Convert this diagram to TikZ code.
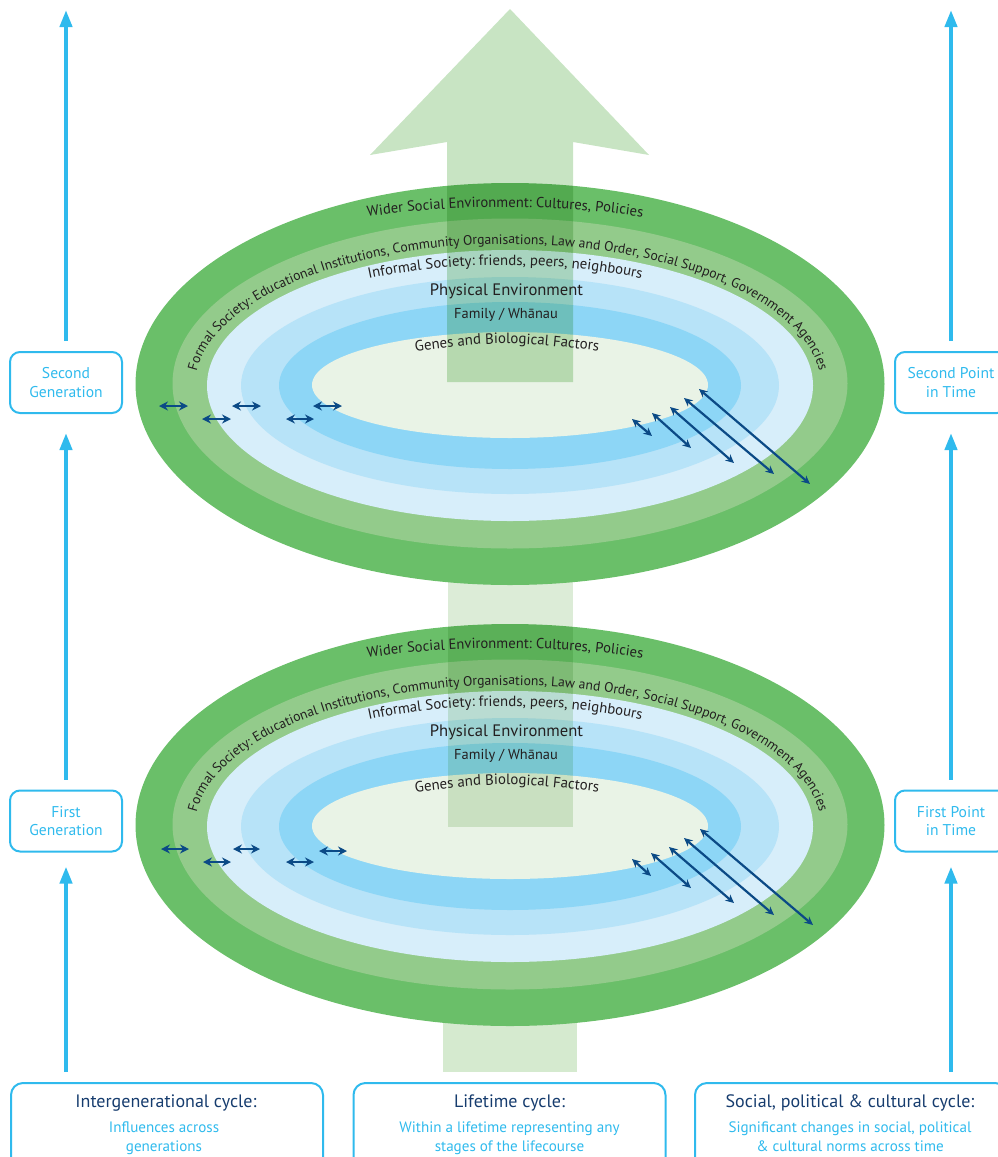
\documentclass[tikz,border=0pt]{standalone}
\usepackage{fontspec}
\setmainfont{PT Sans}
\usetikzlibrary{arrows.meta,decorations.text,calc}
\definecolor{gA}{RGB}{106,191,105}
\definecolor{gB}{RGB}{147,203,139}
\definecolor{bA}{RGB}{215,238,250}
\definecolor{bB}{RGB}{183,227,248}
\definecolor{bC}{RGB}{141,214,246}
\definecolor{cr}{RGB}{233,243,230}
\definecolor{arrTop}{RGB}{200,228,195}
\definecolor{arrMid}{RGB}{220,236,215}
\definecolor{arrLow}{RGB}{213,234,207}
\definecolor{navy}{RGB}{11,74,134}
\definecolor{sky}{RGB}{47,186,237}
\definecolor{titleblue}{RGB}{22,60,110}
\definecolor{txt}{RGB}{35,31,32}
\newcommand\fontWider{\fontsize{14.6}{16}\selectfont}
\newcommand\fontFormal{\fontsize{13.7}{16}\selectfont}
\newcommand\fontInformal{\fontsize{14.8}{16}\selectfont}
\newcommand\fontGenes{\fontsize{14.9}{17}\selectfont}
\newcommand\ringlayers{%
  \fill[gA] (510,384) ellipse[x radius=374.5, y radius=201];
  \fill[gB] (510,383.5) ellipse[x radius=337.5, y radius=165];
  \fill[bA] (510,385.5) ellipse[x radius=303, y radius=135.5];
  \fill[bB] (510,385.5) ellipse[x radius=269, y radius=108.5];
  \fill[bC] (510,385.5) ellipse[x radius=231, y radius=83.5];
  \fill[cr] (510,385) ellipse[x radius=198, y radius=53];
}
\newcommand\ringlabels[1]{%
  \path[decorate,decoration={text along path,text align=center,text color=txt,
    text={|\fontWider|Wider Social Environment: Cultures, Policies}}]
    (505,386) ++(235:417 and 179) arc[start angle=235,end angle=305,x radius=417,y radius=179];
  \path[decorate,decoration={text along path,text align=center,text color=txt,
    text={|\fontFormal|Formal Society: Educational Institutions, Community Organisations, Law and Order, Social Support, Government Agencies}}]
    (508,386) ++(172:313 and 142) arc[start angle=172,end angle=368,x radius=313,y radius=142];
  \path[decorate,decoration={text along path,text align=center,text color=txt,
    text={|\fontInformal|Informal Society: friends, peers, neighbours}}]
    (505,386) ++(225:296 and 121) arc[start angle=225,end angle=315,x radius=296,y radius=121];
  \path[decorate,decoration={text along path,text align=center,text color=txt,
    text={|\fontGenes|Genes and Biological Factors}}]
    (392,354) .. controls (507,340) .. (622,354);
  \node[ringlabel, font=\fontsize{16.6}{19}\selectfont] (#1phys) at (506.5,295) {Physical Environment};
  \node[ringlabel, font=\fontsize{14.4}{17}\selectfont] (#1fam) at (506,318) {Family / Whānau};
}
\tikzset{
  sidebox/.style={draw=sky, line width=2pt, rounded corners=10pt, minimum width=112pt,
    minimum height=61pt, inner sep=0pt, align=center, text=sky, font=\fontsize{15.6}{18.5}\selectfont},
  bigbox/.style={draw=sky, line width=2pt, rounded corners=12pt, minimum width=312pt,
    minimum height=100pt, anchor=north, inner sep=0pt},
  boxtitle/.style={text=titleblue, font=\fontsize{18}{20}\selectfont, anchor=base, inner sep=0pt},
  boxsub/.style={text=sky, font=\fontsize{15.1}{19}\selectfont, align=center, anchor=base, inner sep=0pt},
  cyclearrow/.style={draw=sky, line width=4pt, -{Triangle[width=12pt,length=17pt]}},
  linkarrow/.style={draw=navy, line width=2.8pt, {Stealth[length=9pt,width=9pt]}-{Stealth[length=9pt,width=9pt]}},
  diagarrow/.style={draw=navy, line width=2.2pt, {Stealth[length=8.5pt,width=8pt]}-{Stealth[length=8.5pt,width=8pt]}},
  ringlabel/.style={text=txt, anchor=base, inner sep=0pt},
}
\begin{document}
\begin{tikzpicture}[x=1pt,y=-1pt]
\useasboundingbox (0,0) rectangle (997,1157);
% lower shaft
\fill[arrLow] (443,980) rectangle (577,1072);
% bottom ellipse
\begin{scope}[yshift=-441pt]
  \ringlayers
\end{scope}
% middle shaft
\fill[arrMid, blend mode=multiply] (448,500) rectangle (573,827);
\begin{scope}[yshift=-441pt]
  \ringlabels{b}
\end{scope}
% bottom ellipse arrows
\coordinate (bh1a) at (161,849); \coordinate (bh1b) at (189,849);
\coordinate (bh2a) at (203,862); \coordinate (bh2b) at (231,862);
\coordinate (bh3a) at (233,849); \coordinate (bh3b) at (260,849);
\coordinate (bh4a) at (286,862); \coordinate (bh4b) at (314,862);
\coordinate (bh5a) at (319,851); \coordinate (bh5b) at (347,851);
\foreach \i in {1,...,5} {\draw[linkarrow] (bh\i a) -- (bh\i b);}
\coordinate (bd1a) at (632,859); \coordinate (bd1b) at (651,876);
\coordinate (bd2a) at (651,853); \coordinate (bd2b) at (691,888);
\coordinate (bd3a) at (669,847); \coordinate (bd3b) at (734,903);
\coordinate (bd4a) at (684,838); \coordinate (bd4b) at (774,915);
\coordinate (bd5a) at (700,829); \coordinate (bd5b) at (813,925);
\foreach \i in {1,...,5} {\draw[diagarrow] (bd\i a) -- (bd\i b);}
% top ellipse
\ringlayers
\fill[arrTop, blend mode=multiply] (510,9) -- (649,155) -- (573,142) -- (573,382) -- (447,382) -- (447,142) -- (370,155) -- cycle;
\ringlabels{t}
\coordinate (th1a) at (159,406); \coordinate (th1b) at (188,406);
\coordinate (th2a) at (202,419); \coordinate (th2b) at (231,419);
\coordinate (th3a) at (232,406); \coordinate (th3b) at (261,406);
\coordinate (th4a) at (286,419); \coordinate (th4b) at (314,419);
\coordinate (th5a) at (313,406); \coordinate (th5b) at (342,406);
\foreach \i in {1,...,5} {\draw[linkarrow] (th\i a) -- (th\i b);}
\coordinate (td1a) at (632,419); \coordinate (td1b) at (652,436);
\coordinate (td2a) at (652,413); \coordinate (td2b) at (691,448);
\coordinate (td3a) at (670,407); \coordinate (td3b) at (734,463);
\coordinate (td4a) at (684,398); \coordinate (td4b) at (774,474);
\coordinate (td5a) at (699,389); \coordinate (td5b) at (810,484);
\foreach \i in {1,...,5} {\draw[diagarrow] (td\i a) -- (td\i b);}
% side boxes
\node[sidebox] (g2) at (66,382.5) {Second\\Generation};
\node[sidebox] (g1) at (66,821) {First\\Generation};
\node[sidebox] (p2) at (951,382.5) {Second Point\\in Time};
\node[sidebox] (p1) at (951,821) {First Point\\in Time};
% bottom boxes
\node[bigbox] (cyc1) at (167,1082) {};
\node[bigbox] (cyc2) at (509.5,1082) {};
\node[bigbox] (cyc3) at (851,1082) {};
\node[boxtitle] (cyc1t) at (166,1107) {Intergenerational cycle:};
\node[boxsub] (cyc1s) at (164,1151) {Influences across\\generations};
\node[boxtitle] (cyc2t) at (509.5,1107) {Lifetime cycle:};
\node[boxsub] (cyc2s) at (509.5,1151) {Within a lifetime representing any\\stages of the lifecourse};
\node[boxtitle] (cyc3t) at (850,1107) {Social, political \& cultural cycle:};
\node[boxsub] (cyc3s) at (850,1151) {Significant changes in social, political\\\& cultural norms across time};
% vertical cycle arrows
\coordinate (ltop) at (66,10);
\coordinate (rtop) at (951,10);
\draw[cyclearrow] ($(g1.center |- cyc1.north)+(0,-10)$) -- ($(g1.south)+(0,14)$);
\draw[cyclearrow] ($(g1.north)+(0,-10)$) -- ($(g2.south)+(0,19)$);
\draw[cyclearrow] ($(g2.north)+(0,-10)$) -- (ltop);
\draw[cyclearrow] ($(p1.center |- cyc3.north)+(0,-10)$) -- ($(p1.south)+(0,14)$);
\draw[cyclearrow] ($(p1.north)+(0,-10)$) -- ($(p2.south)+(0,19)$);
\draw[cyclearrow] ($(p2.north)+(0,-10)$) -- (rtop);
\end{tikzpicture}
\end{document}
